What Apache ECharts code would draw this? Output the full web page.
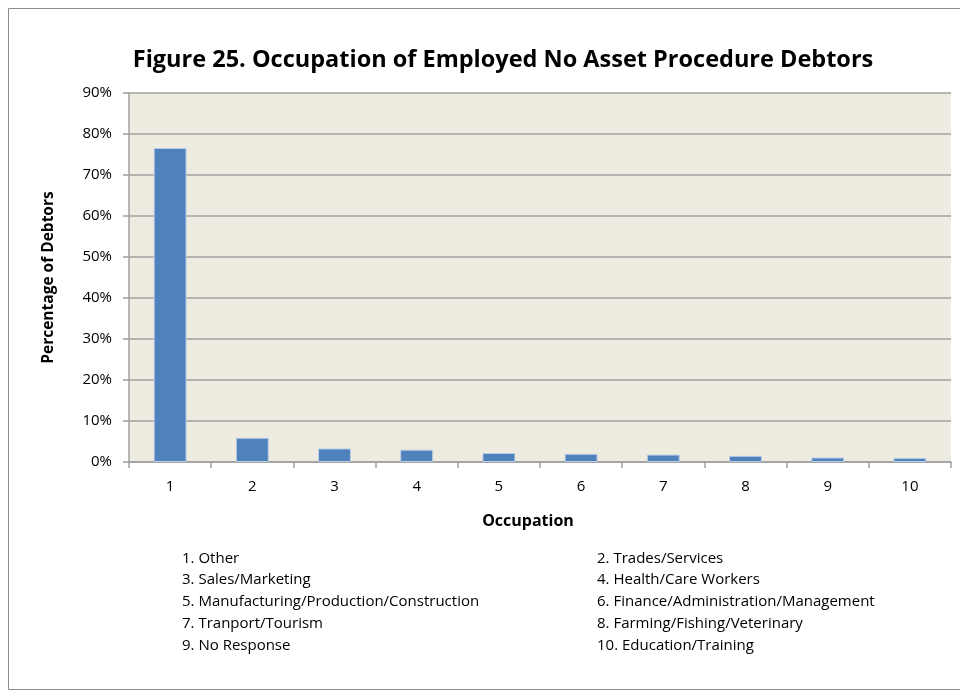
<!DOCTYPE html>
<html>
<head>
<meta charset="utf-8">
<script src="https://cdn.jsdelivr.net/npm/echarts@6/dist/echarts.min.js"></script>
<style>
  html, body { margin: 0; padding: 0; background: #ffffff; }
  #chart { width: 960px; height: 695px; }
</style>
</head>
<body>
<div id="chart"></div>
<script>
// Occupation codes shown on the category axis
const categories = ['1', '2', '3', '4', '5', '6', '7', '8', '9', '10'];
// Share of employed debtors in each occupation (%)
const shares = [76.6, 5.9, 3.3, 3.0, 2.2, 2.0, 1.8, 1.5, 1.1, 1.0];
// Key for the occupation codes, two columns
const keyLeft = ['1. Other', '3. Sales/Marketing', '5. Manufacturing/Production/Construction', '7. Tranport/Tourism', '9. No Response'];
const keyRight = ['2. Trades/Services', '4. Health/Care Workers', '6. Finance/Administration/Management', '8. Farming/Fishing/Veterinary', '10. Education/Training'];

const FONT = '"Open Sans", "Noto Sans", sans-serif';
const chart = echarts.init(document.getElementById('chart'), null, { renderer: 'canvas' });

const keyText = [];
const rowY = [560, 581, 603, 625, 647];
keyLeft.forEach((t, i) => keyText.push({
  type: 'text', left: 182, top: rowY[i] - 9,
  style: { text: t, font: '15px ' + FONT, fill: '#000' }
}));
keyRight.forEach((t, i) => keyText.push({
  type: 'text', left: 597, top: rowY[i] - 9,
  style: { text: t, font: '15px ' + FONT, fill: '#000' }
}));

chart.setOption({
  backgroundColor: '#ffffff',
  animation: false,
  title: {
    text: 'Figure 25. Occupation of Employed No Asset Procedure Debtors',
    left: 498, top: 43, textAlign: 'center',
    textStyle: { fontFamily: FONT, fontSize: 23.5, fontWeight: 'bold', color: '#000' }
  },
  grid: { left: 129, right: 9, top: 93, bottom: 233, backgroundColor: '#EEEBE0', show: true, borderWidth: 0 },
  xAxis: {
    type: 'category', data: categories,
    name: 'Occupation', nameLocation: 'middle', nameGap: 51,
    nameTextStyle: { fontFamily: FONT, fontSize: 16, fontWeight: 'bold', color: '#000', padding: [0, 24, 0, 0] },
    axisLine: { lineStyle: { color: '#A0A0A0', width: 1.5 } },
    axisTick: { show: true, alignWithLabel: false, length: 6, lineStyle: { color: '#A0A0A0', width: 1.5 } },
    axisLabel: { fontFamily: FONT, fontSize: 15, color: '#000', margin: 17 }
  },
  yAxis: {
    type: 'value', min: 0, max: 90, interval: 10,
    name: 'Percentage of Debtors', nameLocation: 'middle', nameGap: 72, nameRotate: 90,
    nameTextStyle: { fontFamily: FONT, fontSize: 15.5, fontWeight: 'bold', color: '#000' },
    axisLine: { show: true, lineStyle: { color: '#A0A0A0', width: 1.5 } },
    axisTick: { show: true, length: 6, lineStyle: { color: '#A0A0A0', width: 1.5 } },
    axisLabel: { fontFamily: FONT, fontSize: 15, color: '#000', margin: 17, formatter: '{value}%' },
    splitLine: { show: true, lineStyle: { color: '#A0A0A0', width: 1.5 } }
  },
  series: [{
    type: 'bar', data: shares, barWidth: '40%',
    itemStyle: { color: '#4F81BD', borderColor: '#B9CDE5', borderWidth: 1 }
  }],
  graphic: [
    { type: 'rect', shape: { x: 8.5, y: 8.5, width: 960, height: 681 }, style: { fill: 'none', stroke: '#8C8C8C', lineWidth: 1 }, z: -1 }
  ].concat(keyText)
});
</script>
</body>
</html>
